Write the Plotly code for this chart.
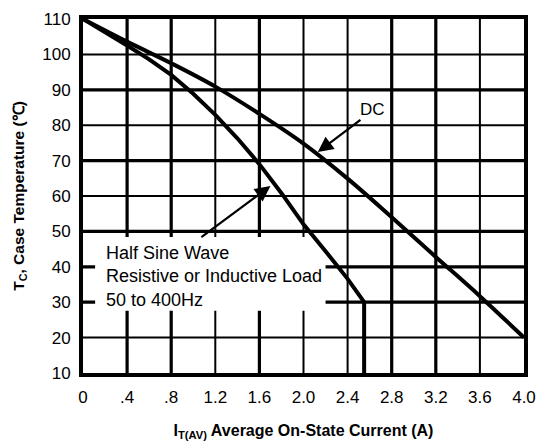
import plotly.graph_objects as go

# ---- data ----
x_ticks = [0, 0.4, 0.8, 1.2, 1.6, 2.0, 2.4, 2.8, 3.2, 3.6, 4.0]
x_tick_labels = ["0", ".4", ".8", "1.2", "1.6", "2.0", "2.4", "2.8", "3.2", "3.6", "4.0"]
y_ticks = [10, 20, 30, 40, 50, 60, 70, 80, 90, 100, 110]
y_tick_labels = ["10", "20", "30", "40", "50", "60", "70", "80", "90", "100", "110"]

dc_current = [0, 0.4, 0.8, 1.2, 1.6, 2.0, 2.4, 2.8, 3.2, 3.6, 4.0]
dc_temp = [110, 103.6, 97.5, 90.9, 83.2, 74.8, 64.9, 54.0, 42.8, 31.7, 20]

hs_current = [0, 0.2, 0.4, 0.6, 0.8, 1.0, 1.2, 1.4, 1.6, 1.8, 2.0, 2.2, 2.4, 2.55, 2.55]
hs_temp = [110, 106.4, 102.5, 98.6, 94.2, 88.9, 82.9, 76.3, 69.0, 60.8, 52.0, 44.4, 36.6, 30, 10]

# grid line emphasis (scanned datasheet look): thick / thin
x_grid_thick = {0.4, 0.8, 1.6, 2.8, 3.2}
y_grid_thick = {90, 70, 50, 40, 30}

FONT = "Liberation Sans, Arial, Helvetica, sans-serif"

fig = go.Figure()

fig.add_trace(go.Scatter(x=dc_current, y=dc_temp, mode="lines", line=dict(color="black", width=4, shape="spline"),
                         showlegend=False, hoverinfo="skip"))
fig.add_trace(go.Scatter(x=hs_current, y=hs_temp, mode="lines", line=dict(color="black", width=4),
                         showlegend=False, hoverinfo="skip"))

shapes = []
for xv in x_ticks[1:-1]:
    shapes.append(dict(type="line", xref="x", yref="paper", x0=xv, x1=xv, y0=0, y1=1,
                       line=dict(color="black", width=3.2 if xv in x_grid_thick else 2), layer="below"))
for yv in y_ticks[1:-1]:
    shapes.append(dict(type="line", xref="paper", yref="y", x0=0, x1=1, y0=yv, y1=yv,
                       line=dict(color="black", width=3.2 if yv in y_grid_thick else 2), layer="below"))
# white background of the condition label (hides grid, stays under the curves)
shapes.append(dict(type="rect", xref="x", yref="y", x0=0.11, x1=2.2, y0=27.6, y1=48.4,
                   fillcolor="white", line=dict(width=0), layer="below"))

annotations = [
    dict(x=2.13, y=72.4, ax=2.53, ay=81.8, axref="x", ayref="y", xref="x", yref="y", text="",
         showarrow=True, arrowhead=2, arrowsize=1.4, arrowwidth=2.2, arrowcolor="black"),
    dict(x=2.63, y=84.3, xref="x", yref="y", text="DC", showarrow=False,
         font=dict(family=FONT, size=17, color="black")),
    dict(x=1.70, y=62.8, ax=1.06, ay=48.1, axref="x", ayref="y", xref="x", yref="y", text="",
         showarrow=True, arrowhead=2, arrowsize=1.4, arrowwidth=2.2, arrowcolor="black"),
    dict(x=0.2, y=37.4, xref="x", yref="y", xanchor="left", yanchor="middle",
         text="Half Sine Wave<br>Resistive or Inductive Load<br>50 to 400Hz",
         align="left", showarrow=False, borderpad=0,
         font=dict(family=FONT, size=18, color="black")),
]

fig.update_layout(
    width=539, height=446,
    margin=dict(l=83, r=15, t=19, b=73),
    paper_bgcolor="white", plot_bgcolor="white",
    shapes=shapes, annotations=annotations,
    font=dict(family=FONT, color="black"),
    xaxis=dict(range=[0, 4.0], tickmode="array", tickvals=x_ticks, ticktext=x_tick_labels,
               showgrid=False, zeroline=False, showline=True, linecolor="black", linewidth=4, mirror=True,
               ticks="", ticklabelstandoff=6, ticklabeloverflow="allow",
               tickfont=dict(family=FONT, size=17, color="black"),
               title=dict(text="<b>I<sub>T(AV)</sub> Average On-State Current (A)</b>", standoff=19,
                          font=dict(family=FONT, size=16, color="black")),
               automargin=False),
    yaxis=dict(range=[10, 110], tickmode="array", tickvals=y_ticks, ticktext=y_tick_labels,
               showgrid=False, zeroline=False, showline=True, linecolor="black", linewidth=4, mirror=True,
               ticks="", ticklabelstandoff=5, ticklabeloverflow="allow",
               tickfont=dict(family=FONT, size=17, color="black"),
               title=dict(text="<b>T<sub>C</sub>, Case Temperature (℃)</b>", standoff=15,
                          font=dict(family=FONT, size=15.5, color="black")),
               automargin=False),
)

fig.write_html("out.html", config={"displayModeBar": False},
               post_script="document.body.style.margin='0';")
